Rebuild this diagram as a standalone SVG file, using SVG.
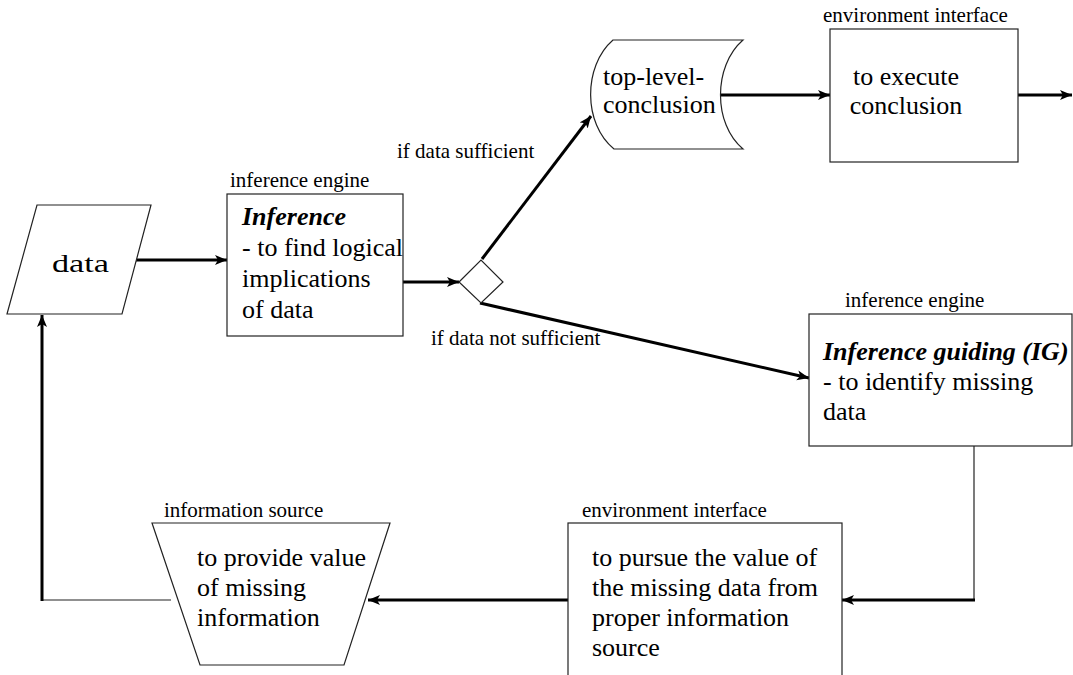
<svg xmlns="http://www.w3.org/2000/svg" width="1073" height="675" viewBox="0 0 1073 675">
<defs>
<marker id="ah" markerUnits="userSpaceOnUse" markerWidth="13" markerHeight="11" refX="12" refY="5" orient="auto">
<path d="M0,0 L12,5 L0,10 L3,5 Z" fill="#000"/>
</marker>
<style>
.sh{fill:#fff;stroke:#222;stroke-width:1.2}
.t{font-family:"Liberation Serif","Times New Roman",serif;font-size:26px;fill:#000}
.b{font-weight:bold;font-style:italic}
.lb{font-family:"Liberation Serif","Times New Roman",serif;font-size:21px;fill:#000}
.thick{stroke:#000;stroke-width:3;fill:none}
.thin{stroke:#222;stroke-width:1.2;fill:none}
.arr{marker-end:url(#ah)}
</style>
</defs>
<rect width="1073" height="675" fill="#fff"/>
<g id="connectors">
<line class="thick arr" x1="128" y1="260" x2="227" y2="260"/>
<line class="thick arr" x1="403" y1="282" x2="459" y2="282"/>
<line class="thick arr" x1="482" y1="259" x2="591" y2="116"/>
<line class="thick arr" x1="480" y1="303" x2="809" y2="378"/>
<line class="thick arr" x1="720" y1="95" x2="830" y2="95"/>
<line class="thick arr" x1="1018" y1="95" x2="1072" y2="95"/>
<polyline class="thin" points="974,446 974,600"/>
<line class="thick arr" x1="975" y1="600" x2="842" y2="600"/>
<line class="thick arr" x1="568" y1="600" x2="368" y2="600"/>
<line class="thin" x1="171" y1="600" x2="42" y2="600" stroke="#666"/>
<line class="thick arr" x1="42" y1="601" x2="42" y2="315"/>
</g>
<g id="data">
<polygon class="sh" points="37,205 151,205 122,314 7,314"/>
<text class="t" x="52" y="272" font-size="28" textLength="57" lengthAdjust="spacingAndGlyphs">data</text>
</g>
<g id="inference">
<text class="lb" x="230" y="187">inference engine</text>
<rect class="sh" x="227" y="194" width="176" height="142"/>
<text class="t b" x="242" y="225">Inference</text>
<text class="t" x="242" y="256">- to find logical</text>
<text class="t" x="242" y="287">implications</text>
<text class="t" x="242" y="318">of data</text>
</g>
<g id="decision">
<polygon class="sh" points="459,282 481,260 503,282 481,303"/>
</g>
<g id="labels">
<text class="lb" x="397" y="158">if data sufficient</text>
<text class="lb" x="431" y="345">if data not sufficient</text>
</g>
<g id="conclusion">
<path class="sh" d="M613,40 L743,40 C713,66 713,124 743,149 L614,149 C583,124 583,66 613,40 Z"/>
<text class="t" x="603" y="85">top-level-</text>
<text class="t" x="603" y="113">conclusion</text>
</g>
<g id="execute">
<text class="lb" x="823" y="22">environment interface</text>
<rect class="sh" x="830" y="29" width="188" height="133"/>
<text class="t" x="906" y="85" text-anchor="middle">to execute</text>
<text class="t" x="906" y="114" text-anchor="middle">conclusion</text>
</g>
<g id="ig">
<text class="lb" x="845" y="307">inference engine</text>
<rect class="sh" x="809" y="314" width="263" height="132"/>
<text class="t b" x="823" y="360">Inference guiding (IG)</text>
<text class="t" x="823" y="390">- to identify missing</text>
<text class="t" x="823" y="420">data</text>
</g>
<g id="pursue">
<text class="lb" x="582" y="517">environment interface</text>
<rect class="sh" x="568" y="523" width="274" height="170"/>
<text class="t" x="592" y="566">to pursue the value of</text>
<text class="t" x="592" y="596">the missing data from</text>
<text class="t" x="592" y="626">proper information</text>
<text class="t" x="592" y="656">source</text>
</g>
<g id="source">
<text class="lb" x="164" y="517">information source</text>
<polygon class="sh" points="152,523 390,523 344,665 200,665"/>
<text class="t" x="197" y="566">to provide value</text>
<text class="t" x="197" y="596">of missing</text>
<text class="t" x="197" y="626">information</text>
</g>
</svg>
